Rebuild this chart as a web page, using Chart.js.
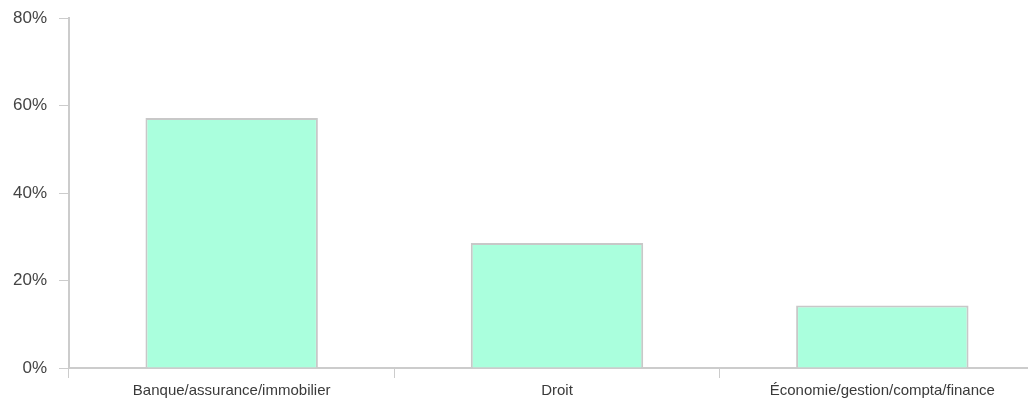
<!DOCTYPE html>
<html>
<head>
<meta charset="utf-8">
<script src="https://cdn.jsdelivr.net/npm/chart.js@4/dist/chart.umd.min.js"></script>
<style>
  html, body { margin: 0; padding: 0; background: #fff; overflow: hidden; }
  #wrap { width: 1045px; height: 400px; }
</style>
</head>
<body>
<div id="wrap"><canvas id="chart" width="1045" height="400"></canvas></div>
<script>
// categories and values (share of answers, %)
const categories = ['Banque/assurance/immobilier', 'Droit', 'Économie/gestion/compta/finance'];
const shares = [57.14, 28.57, 14.29];
const yTicks = [0, 20, 40, 60, 80];

const ctx = document.getElementById('chart').getContext('2d');
new Chart(ctx, {
  type: 'bar',
  data: {
    labels: categories,
    datasets: [{
      data: shares,
      backgroundColor: '#aaffdd',
      borderColor: '#c8c8c8',
      borderWidth: 2,
      barPercentage: 0.53,
      categoryPercentage: 1
    }]
  },
  options: {
    responsive: false,
    animation: false,
    layout: { padding: { top: 18, right: 0, left: 0, bottom: 0 } },
    plugins: { legend: { display: false }, tooltip: { enabled: false } },
    scales: {
      x: {
        offset: true,
        grid: { offset: true, drawOnChartArea: false, tickLength: 10, color: '#cccccc' },
        border: { color: '#cccccc', width: 2 },
        ticks: { color: '#3a3a3a', font: { family: 'Liberation Sans', size: 15 }, padding: 4 },
        afterFit: s => { s.height = 32; s.paddingLeft = 0; s.paddingRight = 0; }
      },
      y: {
        min: 0,
        max: 80,
        afterBuildTicks: s => { s.ticks = yTicks.map(v => ({ value: v })); },
        grid: { drawOnChartArea: false, tickLength: 10, color: '#cccccc' },
        border: { color: '#cccccc', width: 2 },
        ticks: {
          color: '#444',
          font: { family: 'Liberation Sans', size: 17 },
          padding: 12,
          callback: v => v + '%'
        },
        afterFit: s => { s.width = 69; s.paddingTop = 0; s.paddingBottom = 0; }
      }
    }
  }
});
</script>
</body>
</html>
